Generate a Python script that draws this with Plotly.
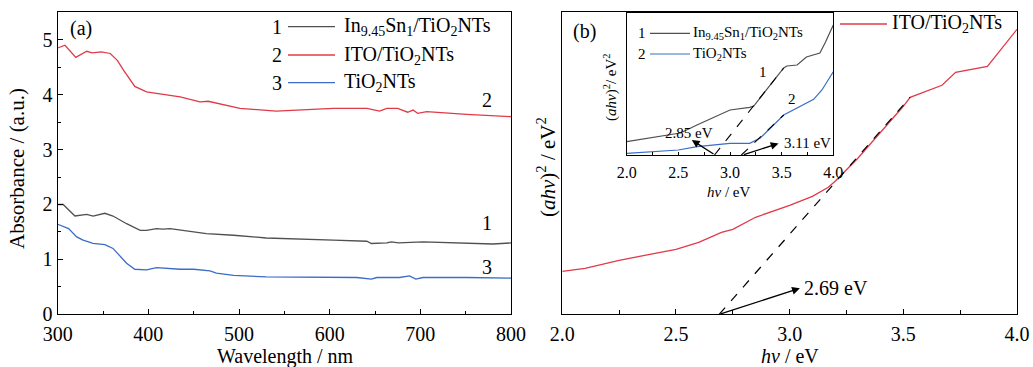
import plotly.graph_objects as go

# ---------------- Panel (a) data: absorbance vs wavelength ----------------
wl_1 = [300, 306, 319, 332, 339, 352, 361, 376, 391, 398, 409, 416, 424, 450, 464, 494, 530, 604, 641, 646, 663, 668, 676, 703, 751, 780, 800]
abs_1 = [2.00, 2.00, 1.79, 1.82, 1.79, 1.84, 1.79, 1.65, 1.53, 1.53, 1.56, 1.55, 1.56, 1.50, 1.47, 1.44, 1.39, 1.35, 1.33, 1.29, 1.30, 1.32, 1.30, 1.32, 1.30, 1.28, 1.30]

wl_2 = [300, 308, 320, 332, 338, 348, 358, 366, 372, 379, 385, 398, 435, 457, 466, 501, 541, 604, 641, 655, 663, 675, 686, 692, 697, 707, 751, 800]
abs_2 = [4.85, 4.90, 4.68, 4.79, 4.76, 4.78, 4.75, 4.62, 4.46, 4.28, 4.15, 4.05, 3.96, 3.87, 3.88, 3.75, 3.70, 3.75, 3.75, 3.70, 3.75, 3.75, 3.68, 3.72, 3.66, 3.69, 3.64, 3.60]

wl_3 = [300, 312, 321, 328, 339, 352, 361, 368, 376, 385, 398, 409, 435, 450, 468, 475, 494, 530, 604, 630, 646, 652, 677, 688, 695, 703, 751, 800]
abs_3 = [1.64, 1.56, 1.41, 1.35, 1.29, 1.27, 1.20, 1.08, 0.93, 0.82, 0.81, 0.85, 0.82, 0.82, 0.79, 0.75, 0.71, 0.68, 0.67, 0.67, 0.64, 0.67, 0.67, 0.70, 0.64, 0.67, 0.67, 0.66]

# ---------------- Panel (b) data: Tauc plot ITO/TiO2NTs ----------------
hv_ito = [2.0, 2.1, 2.25, 2.5, 2.6, 2.7, 2.75, 2.85, 3.0, 3.1, 3.17, 3.2, 3.3, 3.4, 3.5, 3.53, 3.67, 3.73, 3.87, 4.0]
tauc_ito = [4.3, 4.6, 5.4, 6.5, 7.2, 8.2, 8.5, 9.7, 10.9, 11.8, 12.7, 13.3, 15.6, 18.2, 20.8, 21.7, 22.9, 24.2, 24.8, 28.5]
fit_ito_x = [2.69, 3.53]
fit_ito_y = [0.0, 21.7]

# ---------------- Inset data ----------------
hv_in1 = [2.0, 2.2, 2.39, 2.52, 2.68, 2.85, 2.95, 3.0, 3.19, 3.23, 3.52, 3.55, 3.65, 3.74, 3.87, 3.92, 4.0]
tauc_in1 = [1.33, 1.65, 2.0, 2.2, 3.0, 3.8, 4.3, 4.5, 4.77, 4.9, 8.7, 8.9, 9.0, 9.8, 10.2, 11.2, 13.0]
hv_in2 = [2.0, 2.3, 2.5, 2.68, 3.0, 3.19, 3.29, 3.52, 3.65, 3.81, 3.89, 4.0]
tauc_in2 = [0.17, 0.35, 0.5, 0.83, 1.17, 1.17, 1.67, 4.0, 4.67, 5.57, 6.5, 8.33]
fit_in1_x = [2.85, 3.52]
fit_in1_y = [0.0, 8.7]
fit_in2_x = [3.11, 3.52]
fit_in2_y = [0.0, 4.0]

tick_a_x = [300, 400, 500, 600, 700, 800]
tick_a_y = [0, 1, 2, 3, 4, 5]
tick_b_x = [2.0, 2.5, 3.0, 3.5, 4.0]

GRAY = "#505050"
RED = "#e03a48"
BLUE = "#3a6cc8"
FONT = "Liberation Serif"
W, H = 1033, 367


def px(x):
    return x / W


def py(y):
    return 1 - y / H


fig = go.Figure()
fig.add_trace(go.Scatter(x=wl_1, y=abs_1, mode="lines", line=dict(color=GRAY, width=1.3), xaxis="x", yaxis="y"))
fig.add_trace(go.Scatter(x=wl_2, y=abs_2, mode="lines", line=dict(color=RED, width=1.3), xaxis="x", yaxis="y"))
fig.add_trace(go.Scatter(x=wl_3, y=abs_3, mode="lines", line=dict(color=BLUE, width=1.3), xaxis="x", yaxis="y"))

fig.add_trace(go.Scatter(x=hv_ito, y=tauc_ito, mode="lines", line=dict(color=RED, width=1.3), xaxis="x2", yaxis="y2"))
fig.add_trace(go.Scatter(x=fit_ito_x, y=fit_ito_y, mode="lines", line=dict(color="black", width=1.2, dash="dash"), xaxis="x2", yaxis="y2"))

fig.add_trace(go.Scatter(x=hv_in1, y=tauc_in1, mode="lines", line=dict(color=GRAY, width=1.2), xaxis="x3", yaxis="y3"))
fig.add_trace(go.Scatter(x=hv_in2, y=tauc_in2, mode="lines", line=dict(color=BLUE, width=1.2), xaxis="x3", yaxis="y3"))
fig.add_trace(go.Scatter(x=fit_in1_x, y=fit_in1_y, mode="lines", line=dict(color="black", width=1.1, dash="dash"), xaxis="x3", yaxis="y3"))
fig.add_trace(go.Scatter(x=fit_in2_x, y=fit_in2_y, mode="lines", line=dict(color="black", width=1.1, dash="dash"), xaxis="x3", yaxis="y3"))

axis_common = dict(showline=True, linecolor="black", linewidth=1.3, mirror=True, showgrid=False, zeroline=False,
                   automargin=False,
                   ticks="inside", tickcolor="black", tickwidth=1.1, ticklen=5,
                   tickfont=dict(family=FONT, size=20, color="black"))

fig.update_layout(
    width=W, height=H, margin=dict(l=0, r=0, t=0, b=0, autoexpand=False),
    paper_bgcolor="white", plot_bgcolor="white", showlegend=False,
    font=dict(family=FONT, color="black"),
    xaxis=dict(axis_common, domain=[px(57.7), px(511)], range=[300, 800], tickvals=tick_a_x, anchor="y",
               ticklabelstandoff=2,
               minor=dict(dtick=50, ticks="inside", ticklen=3, tickcolor="black")),
    yaxis=dict(axis_common, domain=[py(314.3), py(12.3)], range=[0, 5.5], tickvals=tick_a_y, anchor="x",
               minor=dict(dtick=0.5, ticks="inside", ticklen=3, tickcolor="black")),
    xaxis2=dict(axis_common, domain=[px(562.3), px(1017)], range=[2, 4], tickvals=tick_b_x, tickformat=".1f", anchor="y2",
                ticklabelstandoff=2,
                minor=dict(dtick=0.25, ticks="inside", ticklen=4, tickcolor="black")),
    yaxis2=dict(axis_common, domain=[py(314.3), py(12.3)], range=[0, 30.2], ticks="", showticklabels=False, anchor="x2"),
    xaxis3=dict(axis_common, domain=[px(626.7), px(833.3)], range=[2, 4], tickvals=tick_b_x, tickformat=".1f", anchor="y3",
                ticklen=3, ticklabelstandoff=3, tickfont=dict(family=FONT, size=16, color="black"),
                minor=dict(dtick=0.25, ticks="inside", ticklen=3, tickcolor="black")),
    yaxis3=dict(axis_common, domain=[py(155), py(13.3)], range=[0, 14.17], ticks="", showticklabels=False, anchor="x3"),
)

ann = []


def txt(x, y, text, size=20, xanchor="center", angle=0, xref="paper", yref="paper"):
    ann.append(dict(x=x, y=y, xref=xref, yref=yref, text=text, showarrow=False, xanchor=xanchor, yanchor="middle",
                    textangle=angle, font=dict(family=FONT, size=size, color="black")))


# axis titles
txt(px(17), py(169), "Absorbance / (a.u.)", size=21, angle=-90)
txt(px(285), py(356), "Wavelength / nm", size=20)
txt(px(547), py(167), "(<i>ahν</i>)<sup>2</sup> / eV<sup>2</sup>", size=21, angle=-90)
txt(px(790), py(356), "<i>hν</i> / eV", size=20)
txt(px(610), py(87), "(<i>ahν</i>)<sup>2</sup>/ eV<sup>2</sup>", size=15, angle=-90)
txt(px(728), py(192), "<i>hν</i> / eV", size=15)

# panel labels
txt(px(81), py(28), "(a)", size=20)
txt(px(584.5), py(32), "(b)", size=20)

# legend panel (a)
leg_a = [("1", "In<sub>9.45</sub>Sn<sub>1</sub>/TiO<sub>2</sub>NTs", GRAY, 26.7),
         ("2", "ITO/TiO<sub>2</sub>NTs", RED, 55),
         ("3", "TiO<sub>2</sub>NTs", BLUE, 82.7)]
shapes = []
for num, lab, col, yy in leg_a:
    txt(px(277), py(yy), num, size=20)
    txt(px(342), py(yy), lab, size=20, xanchor="left")
    shapes.append(dict(type="line", xref="paper", yref="paper", x0=px(288), x1=px(335), y0=py(yy), y1=py(yy),
                       line=dict(color=col, width=1.3)))

# curve numbers panel (a)
txt(773, 3.9, "2", xref="x", yref="y")
txt(773, 1.66, "1", xref="x", yref="y")
txt(773, 0.86, "3", xref="x", yref="y")

# legend panel (b)
shapes.append(dict(type="line", xref="paper", yref="paper", x0=px(840), x1=px(887), y0=py(24), y1=py(24),
                   line=dict(color=RED, width=1.3)))
txt(px(890), py(24), "ITO/TiO<sub>2</sub>NTs", size=20, xanchor="left")

# inset legend
leg_in = [("1", "In<sub>9.45</sub>Sn<sub>1</sub>/TiO<sub>2</sub>NTs", GRAY, 33.3),
          ("2", "TiO<sub>2</sub>NTs", BLUE, 54)]
for num, lab, col, yy in leg_in:
    txt(px(642), py(yy), num, size=15)
    txt(px(691), py(yy), lab, size=15, xanchor="left")
    shapes.append(dict(type="line", xref="paper", yref="paper", x0=px(650), x1=px(690), y0=py(yy), y1=py(yy),
                       line=dict(color=col, width=1.2)))

# inset curve numbers
txt(3.32, 8.3, "1", size=15, xref="x3", yref="y3")
txt(3.6, 5.6, "2", size=15, xref="x3", yref="y3")

# arrows + gap labels
def arrow(x, y, ax, ay, xr, yr):
    ann.append(dict(x=x, y=y, ax=ax, ay=ay, xref=xr, yref=yr, axref=xr, ayref=yr, text="", showarrow=True,
                    arrowhead=2, arrowsize=1.2, arrowwidth=1.3, arrowcolor="black"))


arrow(3.045, 2.6, 2.69, 0.0, "x2", "y2")
txt(3.055, 2.6, "2.69 eV", size=20, xanchor="left", xref="x2", yref="y2")
arrow(2.63, 1.5, 2.855, 0.0, "x3", "y3")
txt(2.6, 2.2, "2.85 eV", size=15, xref="x3", yref="y3")
arrow(3.47, 1.15, 3.12, 0.0, "x3", "y3")
txt(3.5, 1.2, "3.11 eV", size=15, xanchor="left", xref="x3", yref="y3")

fig.update_layout(annotations=ann, shapes=shapes)
fig.write_html("out.html", config={"displayModeBar": False},
               post_script="document.body.style.margin='0';document.body.style.overflow='hidden';")
